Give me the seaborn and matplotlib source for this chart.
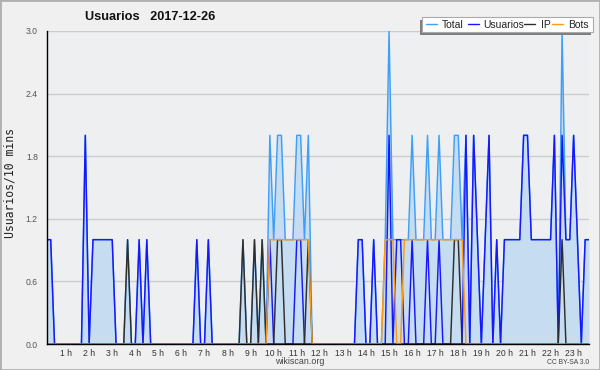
import numpy as np
import pandas as pd
import matplotlib
matplotlib.use("Agg")
import matplotlib.pyplot as plt
import seaborn as sns
from matplotlib.patches import Rectangle
from matplotlib.lines import Line2D
from matplotlib.ticker import MultipleLocator

# ---------------- data ----------------
title = "Usuarios   2017-12-26"
y_label = "Usuarios/10 mins"
series_names = ["Total", "Usuarios", "IP", "Bots"]

total = [1,1,0,0,0,0,0,0,0,0,
         2,0,1,1,1,1,1,1,0,0,
         0,1,0,0,1,0,1,0,0,0,
         0,0,0,0,0,0,0,0,0,1,
         0,0,1,0,0,0,0,0,0,0,
         0,1,0,0,1,0,1,0,2,1,
         2,2,1,1,1,2,2,1,2,0,
         0,0,0,0,0,0,0,0,0,0,
         0,1,1,0,0,1,0,0,1,3,
         1,1,1,1,1,2,1,1,1,2,
         1,1,2,1,1,1,2,2,1,2,
         0,2,1,0,1,2,0,1,0,1,
         1,1,1,1,2,2,1,1,1,1,
         1,1,2,0,3,1,1,2,1,0,
         1,1]

usuarios = [1,1,0,0,0,0,0,0,0,0,
            2,0,1,1,1,1,1,1,0,0,
            0,0,0,0,1,0,1,0,0,0,
            0,0,0,0,0,0,0,0,0,1,
            0,0,1,0,0,0,0,0,0,0,
            0,0,0,0,0,0,0,0,1,0,
            0,0,0,0,0,1,1,0,0,0,
            0,0,0,0,0,0,0,0,0,0,
            0,1,1,0,0,1,0,0,0,2,
            0,1,1,0,0,1,0,0,0,1,
            0,0,1,0,0,0,0,0,0,2,
            0,2,1,0,1,2,0,1,0,1,
            1,1,1,1,2,2,1,1,1,1,
            1,1,2,0,2,1,1,2,1,0,
            1,1]

ip = [0,0,0,0,0,0,0,0,0,0,
      0,0,0,0,0,0,0,0,0,0,
      0,1,0,0,0,0,0,0,0,0,
      0,0,0,0,0,0,0,0,0,0,
      0,0,0,0,0,0,0,0,0,0,
      0,1,0,0,1,0,1,0,0,0,
      1,1,0,0,0,0,0,0,1,0,
      0,0,0,0,0,0,0,0,0,0,
      0,0,0,0,0,0,0,0,0,0,
      0,0,0,0,0,0,0,0,0,0,
      0,0,0,0,0,0,1,1,0,0,
      0,0,0,0,0,0,0,0,0,0,
      0,0,0,0,0,0,0,0,0,0,
      0,0,0,0,1,0,0,0,0,0,
      0,0]

bots = [0,0,0,0,0,0,0,0,0,0,
        0,0,0,0,0,0,0,0,0,0,
        0,0,0,0,0,0,0,0,0,0,
        0,0,0,0,0,0,0,0,0,0,
        0,0,0,0,0,0,0,0,0,0,
        0,0,0,0,0,0,0,0,1,1,
        1,1,1,1,1,1,1,1,1,0,
        0,0,0,0,0,0,0,0,0,0,
        0,0,0,0,0,0,0,0,1,1,
        1,0,0,1,1,1,1,1,1,1,
        1,1,1,1,1,1,1,1,1,0,
        0,0,0,0,0,0,0,0,0,0,
        0,0,0,0,0,0,0,0,0,0,
        0,0,0,0,0,0,0,0,0,0,
        0,0]

hour_labels = [f"{h} h" for h in range(1, 24)]
hour_positions = [6 * h - 1 for h in range(1, 24)]
y_ticks = [0.0, 0.6, 1.2, 1.8, 2.4, 3.0]

# ---------------- style ----------------
colors = {"Total": "#3f9ff7", "Usuarios": "#1717ff", "IP": "#2e2e2e", "Bots": "#ff9a10"}
fill_color = "#c6dcf0"

sns.set_style("white")
plt.rcParams["font.family"] = ["Liberation Sans", "DejaVu Sans"]

W, H = 600, 370
fig = plt.figure(figsize=(W / 100, H / 100), dpi=100)
fig.patch.set_facecolor("#f0f0f0")

left_px, right_px, top_px, bottom_px = 46.85, 589.0, 31.0, 344.0
ax = fig.add_axes([left_px / W, (H - bottom_px) / H,
                   (right_px - left_px) / W, (bottom_px - top_px) / H])
ax.set_facecolor("#eeeff1")

df = pd.DataFrame({"idx": np.arange(len(total)), "Total": total,
                   "Usuarios": usuarios, "IP": ip, "Bots": bots})

ax.fill_between(df["idx"], df["Total"], 0, color=fill_color, lw=0, zorder=1.5)
for z, name in enumerate(series_names):
    sns.lineplot(data=df, x="idx", y=name, ax=ax, color=colors[name],
                 linewidth=1.05, zorder=2 + z, legend=False)

ax.set_xlim(0, len(total) - 1)
ax.set_ylim(0, 3.0)
ax.set_xlabel("")
ax.set_ylabel("")

ax.set_xticks(hour_positions)
ax.set_xticklabels(hour_labels)
ax.set_xticks(np.arange(len(total)), minor=True)
ax.set_yticks(y_ticks)
ax.set_yticklabels([f"{v:.1f}" for v in y_ticks])
ax.yaxis.set_minor_locator(MultipleLocator(0.15))

ax.tick_params(axis="x", which="both", direction="out", length=3.2, width=0.9,
               color="black", pad=0.3, labelsize=6.2, labelcolor="#333333")
ax.tick_params(axis="y", which="major", direction="out", length=5, width=0.9,
               color="black", pad=1.5, labelsize=6.2, labelcolor="#555555")
ax.tick_params(axis="y", which="minor", direction="out", length=3, width=0.9,
               color="black")

ax.grid(axis="y", which="major", color="#cccccc", linewidth=1.0)
ax.set_axisbelow(True)
for s in ["top", "right"]:
    ax.spines[s].set_visible(False)
for s in ["left", "bottom"]:
    ax.spines[s].set_color("black")
    ax.spines[s].set_linewidth(1.0)
    ax.spines[s].set_zorder(10)

# ---------------- texts ----------------
def fx(px):
    return px / W

def fy(py):
    return 1 - py / H

fig.text(fx(85), fy(17), title, fontsize=9.2, fontweight="bold",
         ha="left", va="center", color="#111111")
fig.text(fx(10), fy(183), y_label, rotation=90, fontsize=8.3,
         family="DejaVu Sans Mono", ha="center", va="center", color="#222222")
fig.text(fx(300), fy(361.5), "wikiscan.org", fontsize=6.4,
         ha="center", va="center", color="#444444")
fig.text(fx(589), fy(362), "CC BY-SA 3.0", fontsize=4.9,
         ha="right", va="center", color="#444444")

# ---------------- legend ----------------
lx0, lx1, ly0, ly1 = 422, 593, 17.3, 31.7
fig.add_artist(Rectangle((fx(lx0 - 2.5), fy(ly1 + 3)), (lx1 - lx0) / W, (ly1 - ly0) / H,
                         transform=fig.transFigure, facecolor="#7f7f7f",
                         edgecolor="none", zorder=20))
fig.add_artist(Rectangle((fx(lx0), fy(ly1)), (lx1 - lx0) / W, (ly1 - ly0) / H,
                         transform=fig.transFigure, facecolor="white",
                         edgecolor="#aaaaaa", lw=0.8, zorder=21))
handle_x = [426, 468, 524, 552]
text_x = [442, 483, 541, 568]
for name, hx, tx in zip(series_names, handle_x, text_x):
    fig.add_artist(Line2D([fx(hx), fx(hx + 11)], [fy(24.3), fy(24.3)],
                          transform=fig.transFigure, color=colors[name],
                          lw=1.0, zorder=22))
    fig.text(fx(tx), fy(24.5), name, fontsize=7.5, ha="left", va="center",
             color="#222222", zorder=23)

fig.add_artist(Rectangle((0, 0), 1, 1, transform=fig.transFigure, fill=False,
                         edgecolor="#b0b0b0", lw=2.0, zorder=30))

fig.savefig("out.png", dpi=100, facecolor=fig.get_facecolor())
